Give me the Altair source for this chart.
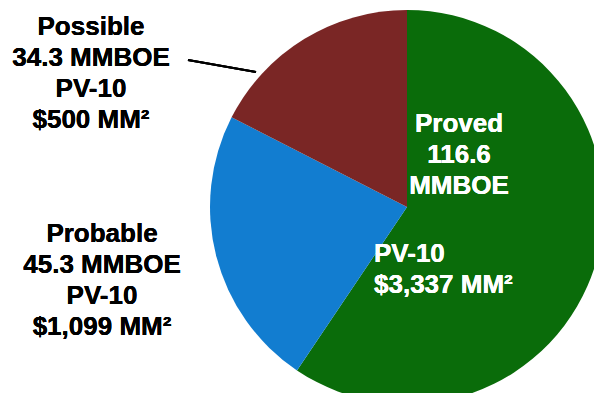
import altair as alt
import pandas as pd

categories = ["Proved", "Probable", "Possible"]
mmboe = [116.6, 45.3, 34.3]
pv10 = [3337, 1099, 500]
colors = ["#0A6C0A", "#127DD0", "#7A2625"]

df = pd.DataFrame({"category": categories, "mmboe": mmboe, "ord": list(range(len(categories)))})

CX, CY, R = 399, 199, 197
FONT = "Liberation Sans"
FS = 26
LH = 31

pie = alt.Chart(df).mark_arc(outerRadius=R).encode(
    x=alt.value(CX),
    y=alt.value(CY),
    theta=alt.Theta("mmboe:Q", stack=True),
    order=alt.Order("ord:Q"),
    color=alt.Color("category:N", scale=alt.Scale(domain=categories, range=colors), legend=None),
)

def block(text, x, y, align, color):
    return alt.Chart(df).mark_text(
        font=FONT, fontSize=FS, fontWeight="bold", align=align, baseline="alphabetic",
        lineBreak="\n", lineHeight=LH, color=color,
    ).encode(x=alt.value(x), y=alt.value(y), text=alt.value(text))

def pv(v):
    return f"${v:,} MM\u00b2"

lab_possible = block(f"{categories[2]}\n{mmboe[2]} MMBOE\nPV-10\n{pv(pv10[2])}", 83, 27, "center", "black")
lab_probable = block(f"{categories[1]}\n{mmboe[1]} MMBOE\nPV-10\n{pv(pv10[1])}", 94, 234, "center", "black")
lab_proved = block(f"{categories[0]}\n{mmboe[0]}\nMMBOE", 451, 124, "center", "white")
lab_proved_pv = block(f"PV-10\n{pv(pv10[0])}", 366, 254, "left", "white")

leader = alt.Chart(df).mark_rule(color="black", strokeWidth=2).encode(
    x=alt.value(180), x2=alt.value(248), y=alt.value(52), y2=alt.value(64)
)

chart = alt.layer(pie, leader, lab_possible, lab_probable, lab_proved, lab_proved_pv).properties(
    width=586, height=385, autosize=alt.AutoSizeParams(type="none"), padding=0
).configure_view(strokeWidth=0)

chart.save("out.html", embed_options={"renderer": "svg", "actions": False})
